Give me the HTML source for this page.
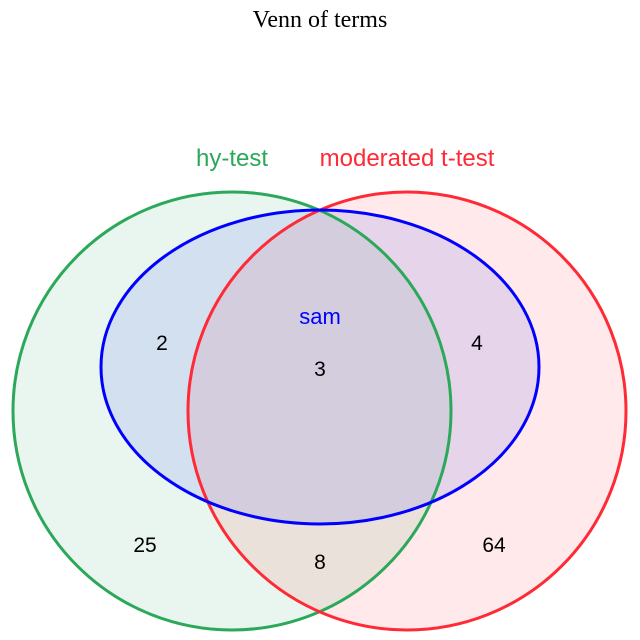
<!DOCTYPE html>
<html><head><style>body{margin:0;background:#fff}svg{display:block}</style></head>
<body>
<svg width="640" height="640" viewBox="0 0 640 640" xmlns="http://www.w3.org/2000/svg">
<rect width="640" height="640" fill="#fff"/>
<text x="320" y="27" text-anchor="middle" font-family="Liberation Serif, serif" font-size="24" fill="#000">Venn of terms</text>
<circle cx="232" cy="411" r="219" fill="#2ca25f" fill-opacity="0.1"/>
<circle cx="407" cy="411" r="219" fill="#ff2a35" fill-opacity="0.1"/>
<ellipse cx="320" cy="367" rx="219" ry="157" fill="#3344ee" fill-opacity="0.12"/>
<circle cx="232" cy="411" r="219" fill="none" stroke="#2ca85a" stroke-width="3"/>
<circle cx="407" cy="411" r="219" fill="none" stroke="#ff2a35" stroke-width="3"/>
<ellipse cx="320" cy="367" rx="219" ry="157" fill="none" stroke="#0000ff" stroke-width="3"/>
<g font-family="Liberation Sans, sans-serif" font-size="21">
<text x="232" y="166" text-anchor="middle" fill="#2ca85a" font-size="24">hy-test</text>
<text x="407" y="166" text-anchor="middle" fill="#ff2a35" font-size="24">moderated t-test</text>
<text x="320" y="324" text-anchor="middle" fill="#0000ff" font-size="22">sam</text>
<g fill="#000" text-anchor="middle">
<text x="162" y="350">2</text>
<text x="320" y="376">3</text>
<text x="477" y="350">4</text>
<text x="145" y="552">25</text>
<text x="320" y="569">8</text>
<text x="494" y="552">64</text>
</g></g>
</svg>
</body></html>
